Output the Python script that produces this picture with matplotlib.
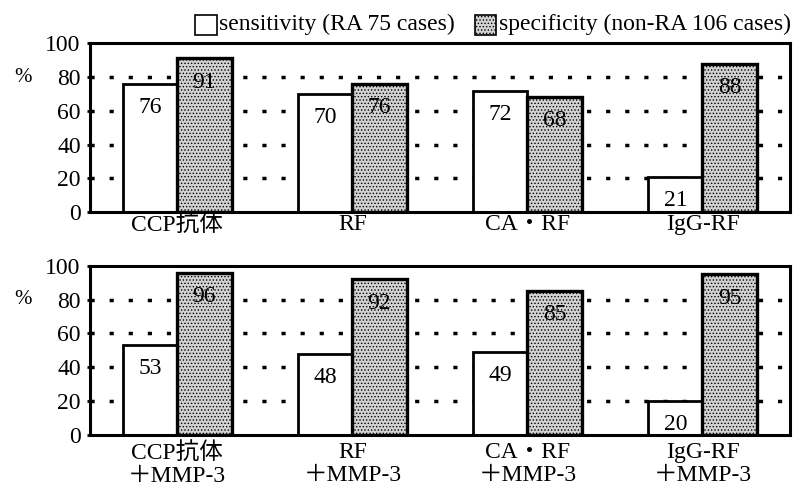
import numpy as np
import matplotlib.pyplot as plt
from matplotlib.patches import Rectangle

plt.rcParams['font.family'] = ['Liberation Serif', 'Noto Sans CJK JP']
plt.rcParams['hatch.color'] = '#777777'
plt.rcParams['hatch.linewidth'] = 0.6

# data
top_labels = ['CCP抗体', 'RF', 'CA・RF', 'IgG-RF']
top_sens = [76, 70, 72, 21]
top_spec = [91, 76, 68, 88]

bot_labels = ['CCP抗体\n＋MMP-3', 'RF\n＋MMP-3', 'CA・RF\n＋MMP-3', 'IgG-RF\n＋MMP-3']
bot_sens = [53, 48, 49, 20]
bot_spec = [96, 92, 85, 95]

legend_labels = ['sensitivity (RA 75 cases)', 'specificity (non-RA 106 cases)']

fig = plt.figure(figsize=(7.94, 4.97), dpi=100)
ax1 = fig.add_axes([0.113, 0.573, 0.882, 0.340])
ax2 = fig.add_axes([0.113, 0.125, 0.882, 0.340])

w = 0.31
gray = '#d2d2d2'
fs = 17


def draw(ax, labels, sens, spec, pad):
    x = np.arange(len(labels))
    for y in [20, 40, 60, 80]:
        ax.axhline(y, color='black', ls=(0, (1.2, 4.3)), lw=2.5, zorder=0)
    ax.bar(x - w / 2, sens, w, color='white', edgecolor='black', lw=2, zorder=2)
    ax.bar(x + w / 2, spec, w, color=gray, edgecolor='black', lw=2.4,
           hatch='.....', zorder=2)
    for i in range(len(x)):
        for xi, v in [(x[i] - w / 2, sens[i]), (x[i] + w / 2, spec[i])]:
            ax.text(xi, v - 14, str(v), ha='center', va='center', fontsize=fs,
                    zorder=3)
    ax.set_xlim(-0.5, 3.5)
    ax.set_ylim(0, 100)
    ax.set_yticks([0, 20, 40, 60, 80, 100])
    ax.set_xticks(x)
    ax.set_xticklabels(labels, fontsize=fs, linespacing=1.15)
    ax.tick_params(axis='y', labelsize=fs, length=5, width=2, direction='inout', pad=4)
    ax.tick_params(axis='x', length=0, pad=pad)
    for s in ax.spines.values():
        s.set_linewidth(2.2)
    ax.text(-0.095, 0.8, '%', transform=ax.transAxes, fontsize=fs - 2,
            ha='center', va='center')


draw(ax1, top_labels, top_sens, top_spec, 1)
draw(ax2, bot_labels, bot_sens, bot_spec, 5)

# legend boxes
fig.patches.append(Rectangle((0.246, 0.930), 0.027, 0.040, transform=fig.transFigure,
                             facecolor='white', edgecolor='black', lw=1.2))
fig.text(0.276, 0.950, legend_labels[0], fontsize=fs, va='center')
fig.patches.append(Rectangle((0.598, 0.930), 0.027, 0.040, transform=fig.transFigure,
                             facecolor=gray, edgecolor='black', lw=1.2, hatch='.....'))
fig.text(0.628, 0.950, legend_labels[1], fontsize=fs, va='center')

plt.savefig('out.png', dpi=100)
